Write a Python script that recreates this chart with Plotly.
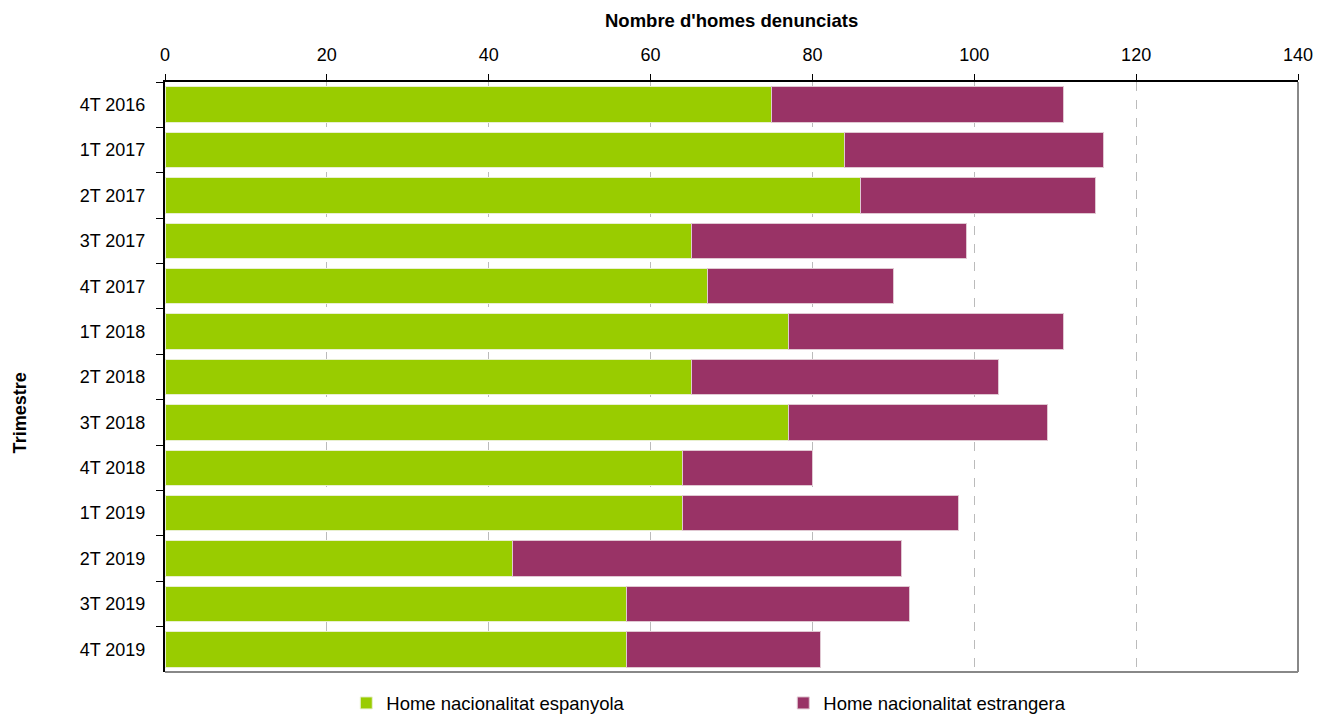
import plotly.graph_objects as go

categories = ["4T 2016", "1T 2017", "2T 2017", "3T 2017", "4T 2017", "1T 2018", "2T 2018",
              "3T 2018", "4T 2018", "1T 2019", "2T 2019", "3T 2019", "4T 2019"]
espanyola = [75, 84, 86, 65, 67, 77, 65, 77, 64, 64, 43, 57, 57]
estrangera = [36, 32, 29, 34, 23, 34, 38, 32, 16, 34, 48, 35, 24]
x_ticks = [0, 20, 40, 60, 80, 100, 120, 140]

FONT = "Liberation Sans, Arial, sans-serif"

# the page body adds an 8 px offset; figure is sized to the visible area
W, H = 1325, 709
ML, MR, MT, MB = 157, 35, 74, 45
PLOT_H = H - MT - MB

fig = go.Figure()
fig.add_trace(go.Bar(y=categories, x=espanyola, orientation="h", name="Home nacionalitat espanyola",
                     marker=dict(color="#99CC00", line=dict(color="#e8f0d0", width=1))))
fig.add_trace(go.Bar(y=categories, x=estrangera, orientation="h", name="Home nacionalitat estrangera",
                     marker=dict(color="#993366", line=dict(color="#e0c8d2", width=1))))

fig.update_layout(
    barmode="stack", bargap=0.22,
    width=W, height=H,
    margin=dict(l=ML, r=MR, t=MT, b=MB, autoexpand=False),
    plot_bgcolor="white", paper_bgcolor="white",
    font=dict(family=FONT, size=18, color="black"),
    showlegend=True,
    legend=dict(orientation="h", traceorder="normal", x=0.16, xanchor="left", y=-0.021, yanchor="top",
                entrywidth=392, entrywidthmode="pixels", itemwidth=30,
                font=dict(family=FONT, size=18.5)),
    xaxis=dict(side="top", range=[0, 140], tickvals=x_ticks, showgrid=True,
               gridcolor="#bbbbbb", griddash="dash", gridwidth=1,
               showline=True, linecolor="black", linewidth=2,
               ticks="outside", ticklen=6, tickcolor="black", zeroline=False,
               ticklabelstandoff=6, automargin=False),
    yaxis=dict(autorange="reversed", showline=True, linecolor="black", linewidth=2,
               ticks="outside", ticklen=7, tickcolor="black", tickson="boundaries",
               ticklabelstandoff=14, showgrid=False, automargin=False),
    shapes=[
        dict(type="line", xref="paper", yref="paper", x0=1, x1=1, y0=0, y1=1,
             line=dict(color="#888888", width=2)),
        dict(type="line", xref="paper", yref="paper", x0=0, x1=1, y0=0, y1=0,
             line=dict(color="#888888", width=2)),
    ],
    annotations=[
        dict(text="<b>Nombre d'homes denunciats</b>", xref="paper", yref="paper",
             x=0.5, xanchor="center", y=(H - MB - 12) / PLOT_H,
             yanchor="middle", showarrow=False, font=dict(family=FONT, size=18.5)),
        dict(text="<b>Trimestre</b>", textangle=-90, xref="paper", yref="paper",
             x=-0.128, xanchor="center", y=0.44, yanchor="middle",
             showarrow=False, font=dict(family=FONT, size=18)),
    ],
)

fig.write_html("out.html")
